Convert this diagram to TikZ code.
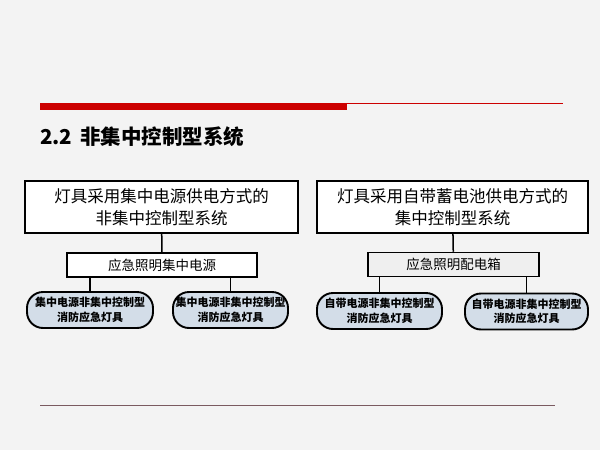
\documentclass[tikz,border=0pt]{standalone}
\usepackage{fontspec}
\setmainfont{Liberation Sans}
\newfontfamily\cjk{Noto Sans CJK SC}
\usetikzlibrary{positioning,calc}
\definecolor{slidebg}{HTML}{F3F3F3}
\definecolor{barred}{HTML}{CC0000}
\definecolor{footline}{HTML}{7A5A60}
\definecolor{lampblue}{HTML}{D3DDE8}
\definecolor{boxgray}{HTML}{EFEFEF}

\tikzset{
  sysbox/.style={draw, line width=1.8pt, fill=white, inner sep=0pt,
    minimum height=52pt, align=center, font=\cjk\fontsize{16.5}{22}\selectfont},
  srcbox/.style={draw, line width=1.5pt, inner sep=0pt, minimum height=24pt,
    font=\cjk\fontsize{13.5}{16}\selectfont},
  lampbox/.style={draw, line width=1.9pt, fill=lampblue, rounded corners=16pt,
    inner sep=0pt, minimum height=36pt, align=center,
    font=\cjk\bfseries\fontsize{11}{14.5}\selectfont},
  link/.style={line width=1.5pt}
}

\begin{document}
\begin{tikzpicture}[x=1pt,y=-1pt]
  % slide background and rules
  \fill[slidebg] (0,0) rectangle (600,450);
  \useasboundingbox (0,0) rectangle (600,450);
  \fill[barred] (40,103) rectangle (347,110);
  \draw[barred, line width=0.6pt] (347,103.5) -- (563,103.5);
  \draw[footline, line width=1pt] (40,405) -- (555,405);
  \node[anchor=west, inner sep=0pt, font=\cjk\bfseries\fontsize{20.5}{24}\selectfont] (title) at (40,137) {2.2\, 非集中控制型系统};

  % left tree
  \node[sysbox, minimum width=273pt] (sysA) at (161.5,207) {灯具采用集中电源供电方式的\\非集中控制型系统};
  \node[srcbox, fill=white, minimum width=190pt] (srcA) at (162,265) {应急照明集中电源};
  \node[lampbox, minimum width=126pt] (lampA1) at (90,310) {集中电源非集中控制型\\消防应急灯具};
  \node[lampbox, minimum width=115pt] (lampA2) at (230.5,310) {集中电源非集中控制型\\消防应急灯具};
  \draw[link] (sysA) -- (srcA);
  \draw[link] (lampA1.north) -- (lampA1.north |- srcA.south);
  \draw[link] (lampA2.north) -- (lampA2.north |- srcA.south);

  % right tree
  \node[sysbox, minimum width=271pt] (sysB) at (452.5,207) {灯具采用自带蓄电池供电方式的\\集中控制型系统};
  \node[srcbox, fill=boxgray, minimum width=171pt] (srcB) at (453.5,264.5) {应急照明配电箱};
  \node[lampbox, minimum width=125pt] (lampB1) at (379.5,311) {自带电源非集中控制型\\消防应急灯具};
  \node[lampbox, minimum width=123pt] (lampB2) at (526.5,311.5) {自带电源非集中控制型\\消防应急灯具};
  \draw[link] (sysB) -- (srcB);
  \draw[link] (lampB1.north) -- (lampB1.north |- srcB.south);
  \draw[link] (lampB2.north) -- (lampB2.north |- srcB.south);
\end{tikzpicture}
\end{document}
